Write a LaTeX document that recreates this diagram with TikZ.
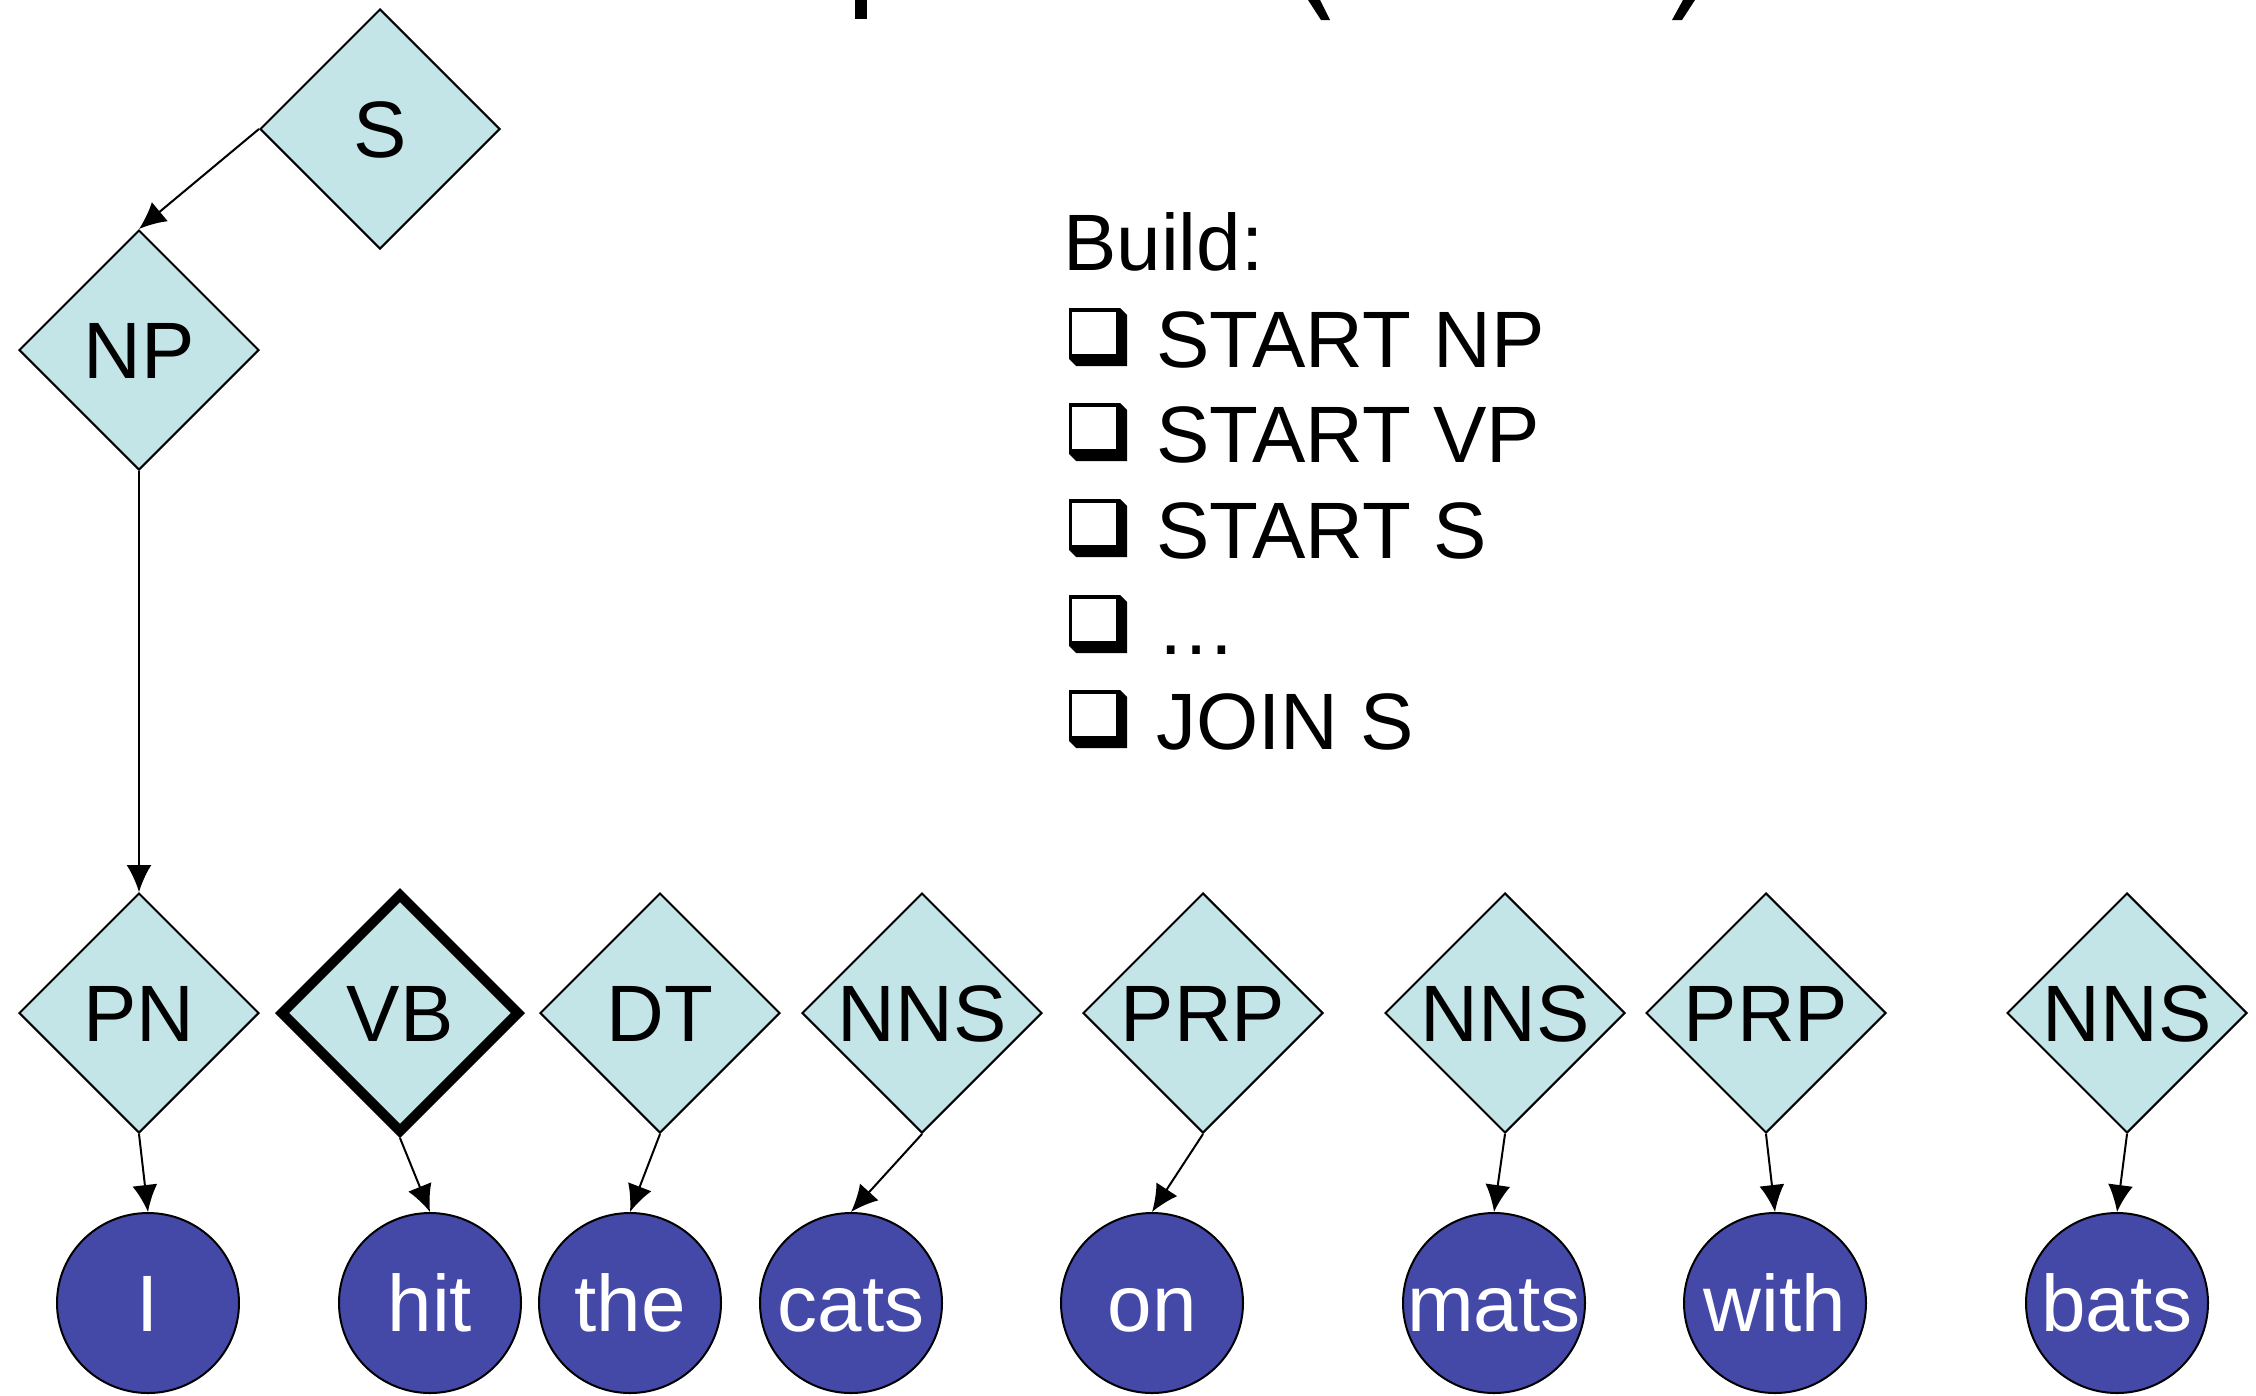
\documentclass[tikz,border=0pt]{standalone}
\usepackage{fontspec}
\setmainfont{Liberation Sans}
\usetikzlibrary{shapes.geometric,arrows.meta}
\definecolor{tagfill}{HTML}{C4E5E8}
\definecolor{wordfill}{HTML}{4449A8}
\begin{document}
\begin{tikzpicture}[x=1pt,y=-1pt,
  lbl/.style={font=\fontsize{80pt}{96pt}\selectfont, text height=57pt, text depth=0pt, inner sep=0pt},
  tag/.style={lbl, diamond, shape aspect=1, minimum width=240pt, minimum height=240pt,
    draw=black, line width=2pt, fill=tagfill},
  current/.style={line width=10pt},
  word/.style={lbl, ellipse, minimum width=182pt, minimum height=180pt,
    draw=black, line width=2pt, fill=wordfill, text=white},
  edge/.style={draw=black, line width=2pt, -{Latex[length=27pt,width=25pt]}},
  listtext/.style={font=\fontsize{80pt}{96pt}\selectfont, inner sep=0pt, anchor=base west},
  chkbox/.pic={
    \fill[black] (0,0) -- (51,0) -- (58,7) -- (58,58) -- (7,58) -- (0,51) -- cycle;
    \fill[white] (3,4) rectangle (47,46);
  }
]
\useasboundingbox (0,0) rectangle (2256,1395);

% descenders of the heading above the frame
\fill (855,0) rectangle (867,19);
\fill (1308,0) -- (1320,0) -- (1330,20) -- (1321,20) -- cycle;
\fill (1683,0) -- (1695,0) -- (1682,20) -- (1672,20) -- cycle;

% constituents built so far
\node[tag] (S)  at (380,129) {S};
\node[tag] (NP) at (139,350) {NP};

% part-of-speech tags
\node[tag] (PN)   at (139,1013)  {PN};
\node[tag,current] (VB) at (400,1013) {VB};
\node[tag] (DT)   at (660,1013)  {DT};
\node[tag] (NNSa) at (922,1013)  {NNS};
\node[tag] (PRPa) at (1203,1013) {PRP};
\node[tag] (NNSb) at (1505,1013) {NNS};
\node[tag] (PRPb) at (1766,1013) {PRP};
\node[tag] (NNSc) at (2127,1013) {NNS};

% words
\node[word] (wI)    at (148,1303)  {\makebox[0pt]{I}};
\node[word] (whit)  at (430,1303)  {\makebox[0pt]{hit}};
\node[word] (wthe)  at (630,1303)  {\makebox[0pt]{the}};
\node[word] (wcats) at (851,1303)  {\makebox[0pt]{cats}};
\node[word] (won)   at (1152,1303) {\makebox[0pt]{on}};
\node[word] (wmats) at (1494,1303) {\makebox[0pt]{mats}};
\node[word] (wwith) at (1775,1303) {\makebox[0pt]{with}};
\node[word] (wbats) at (2117,1303) {\makebox[0pt]{bats}};

% tree edges
\draw[edge] (S.west) -- (NP.north);
\draw[edge] (NP.south) -- (PN.north);
\draw[edge] (PN.south) -- (wI.north);
\draw[edge] (VB.south) -- (whit.north);
\draw[edge] (DT.south) -- (wthe.north);
\draw[edge] (NNSa.south) -- (wcats.north);
\draw[edge] (PRPa.south) -- (won.north);
\draw[edge] (NNSb.south) -- (wmats.north);
\draw[edge] (PRPb.south) -- (wwith.north);
\draw[edge] (NNSc.south) -- (wbats.north);

% list of build actions
\node[listtext] (build) at (1063,270) {Build:};
\pic at (1069,308) {chkbox};
\node[listtext] (act1) at (1156,367) {START NP};
\pic at (1069,403) {chkbox};
\node[listtext] (act2) at (1156,462) {START VP};
\pic at (1069,499) {chkbox};
\node[listtext] (act3) at (1156,558) {START S};
\pic at (1069,595) {chkbox};
\node[listtext] (act4) at (1156,654) {…};
\pic at (1069,690) {chkbox};
\node[listtext] (act5) at (1156,749) {JOIN S};
\end{tikzpicture}
\end{document}
